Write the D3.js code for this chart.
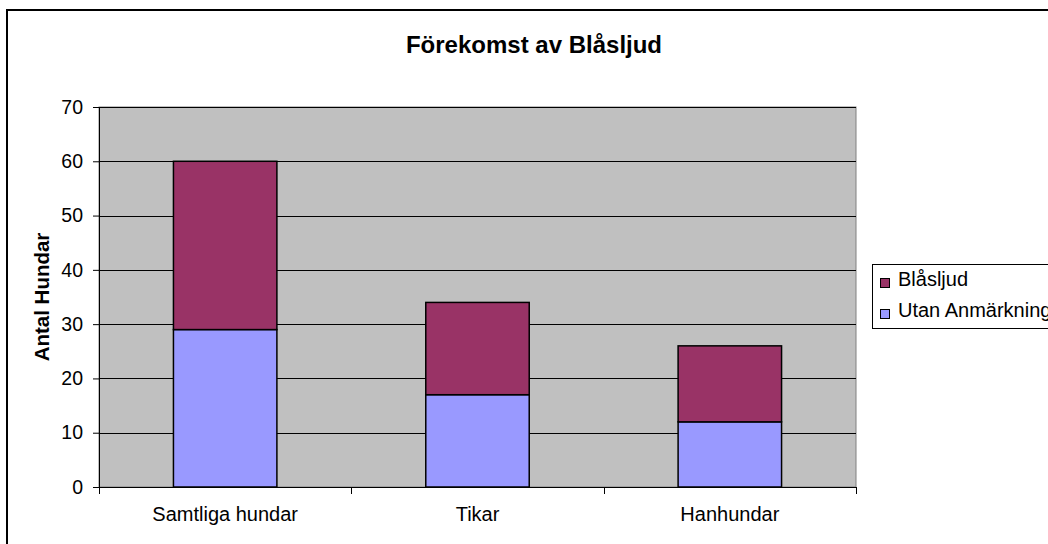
<!DOCTYPE html>
<html>
<head>
<meta charset="utf-8">
<script src="https://cdn.jsdelivr.net/npm/d3@7/dist/d3.min.js"></script>
<style>
  body { margin: 0; background: #fff; }
  svg text { font-family: "Liberation Sans", Arial, sans-serif; }
</style>
</head>
<body>
<div id="chart"></div>
<script>
var categories = ["Samtliga hundar", "Tikar", "Hanhundar"];
var seriesNames = ["Utan Anmärkning", "Blåsljud"];
var utanValues = [29, 17, 12];
var blasljudValues = [31, 17, 14];
var yTicks = [0, 10, 20, 30, 40, 50, 60, 70];
var colors = { "Utan Anmärkning": "#9999ff", "Blåsljud": "#993366" };

var width = 1048, height = 544;
var plot = { left: 99, top: 107, right: 856, bottom: 487 };
var fontFam = "'Liberation Sans', Arial, sans-serif";

var svg = d3.select("#chart").append("svg")
    .attr("width", width)
    .attr("height", height);

// outer chart frame
svg.append("rect")
    .attr("x", 7).attr("y", 10)
    .attr("width", 1100).attr("height", 600)
    .attr("fill", "#fff")
    .attr("stroke", "#000")
    .attr("stroke-width", 2);

var x = d3.scaleBand()
    .domain(categories)
    .range([plot.left, plot.right])
    .paddingInner(0.59)
    .paddingOuter(0.295);

var y = d3.scaleLinear()
    .domain([0, 70])
    .range([plot.bottom, plot.top]);

// plot background
svg.append("rect")
    .attr("x", plot.left).attr("y", plot.top)
    .attr("width", plot.right - plot.left)
    .attr("height", plot.bottom - plot.top)
    .attr("fill", "#c0c0c0")
    .attr("stroke", "#808080")
    .attr("stroke-width", 1);

// gridlines
svg.append("g")
    .selectAll("line")
    .data(yTicks.filter(function(d) { return d > 0; }))
    .enter().append("line")
      .attr("x1", plot.left).attr("x2", plot.right)
      .attr("y1", function(d) { return Math.round(y(d)) + 0.5; })
      .attr("y2", function(d) { return Math.round(y(d)) + 0.5; })
      .attr("stroke", "#000")
      .attr("stroke-width", 1);

// stacked bars
var rows = categories.map(function(c, i) {
  return { cat: c, "Utan Anmärkning": utanValues[i], "Blåsljud": blasljudValues[i] };
});
var stack = d3.stack().keys(seriesNames)(rows);

svg.append("g")
  .selectAll("g")
  .data(stack)
  .enter().append("g")
    .attr("fill", function(d) { return colors[d.key]; })
  .selectAll("rect")
  .data(function(d) { return d; })
  .enter().append("rect")
    .attr("x", function(d) { return x(d.data.cat); })
    .attr("y", function(d) { return y(d[1]); })
    .attr("width", x.bandwidth())
    .attr("height", function(d) { return y(d[0]) - y(d[1]); })
    .attr("stroke", "#000")
    .attr("stroke-width", 1.5);

// y axis
var gy = svg.append("g")
    .attr("transform", "translate(" + plot.left + ",0)")
    .call(d3.axisLeft(y).tickValues(yTicks).tickSize(6).tickPadding(10));
gy.select(".domain").attr("stroke", "#000").attr("d", "M0.5," + plot.top + "V" + plot.bottom);
gy.selectAll("text").attr("font-size", 19.5).attr("fill", "#000")
    .style("font-family", fontFam);
gy.selectAll(".tick line").attr("stroke", "#000");

// x axis
var gx = svg.append("g")
    .attr("transform", "translate(0," + plot.bottom + ")")
    .call(d3.axisBottom(x).tickSize(0).tickPadding(20));
gx.select(".domain").remove();
gx.selectAll("text").attr("font-size", 20).attr("fill", "#000")
    .style("font-family", fontFam);
svg.append("line")
    .attr("x1", plot.left).attr("x2", plot.right)
    .attr("y1", plot.bottom + 0.5).attr("y2", plot.bottom + 0.5)
    .attr("stroke", "#000");
svg.append("g").selectAll("line")
    .data(d3.range(categories.length + 1))
    .enter().append("line")
      .attr("x1", function(i) { return Math.round(plot.left + i * (plot.right - plot.left) / categories.length) + 0.5; })
      .attr("x2", function(i) { return Math.round(plot.left + i * (plot.right - plot.left) / categories.length) + 0.5; })
      .attr("y1", plot.bottom).attr("y2", plot.bottom + 7)
      .attr("stroke", "#000");

// title
svg.append("text")
    .attr("x", 534).attr("y", 53)
    .attr("text-anchor", "middle")
    .attr("font-size", 24)
    .attr("font-weight", "bold")
    .text("Förekomst av Blåsljud");

// y title
svg.append("text")
    .attr("transform", "translate(49," + 297 + ") rotate(-90)")
    .attr("text-anchor", "middle")
    .attr("font-size", 20.5)
    .attr("font-weight", "bold")
    .text("Antal Hundar");

// legend
var legend = svg.append("g").attr("transform", "translate(872,264)");
legend.append("rect")
    .attr("x", 0.5).attr("y", 0.5)
    .attr("width", 220).attr("height", 64)
    .attr("fill", "#fff")
    .attr("stroke", "#000");
var legendItems = seriesNames.slice().reverse();
var li = legend.selectAll("g.item")
    .data(legendItems)
    .enter().append("g")
      .attr("class", "item")
      .attr("transform", function(d, i) { return "translate(0," + (i * 31) + ")"; });
li.append("rect")
    .attr("x", 8.5).attr("y", 14.5)
    .attr("width", 9).attr("height", 9)
    .attr("fill", function(d) { return colors[d]; })
    .attr("stroke", "#000");
li.append("text")
    .attr("x", 26).attr("y", 22)
    .attr("font-size", 20)
    .text(function(d) { return d; });
</script>
</body>
</html>
